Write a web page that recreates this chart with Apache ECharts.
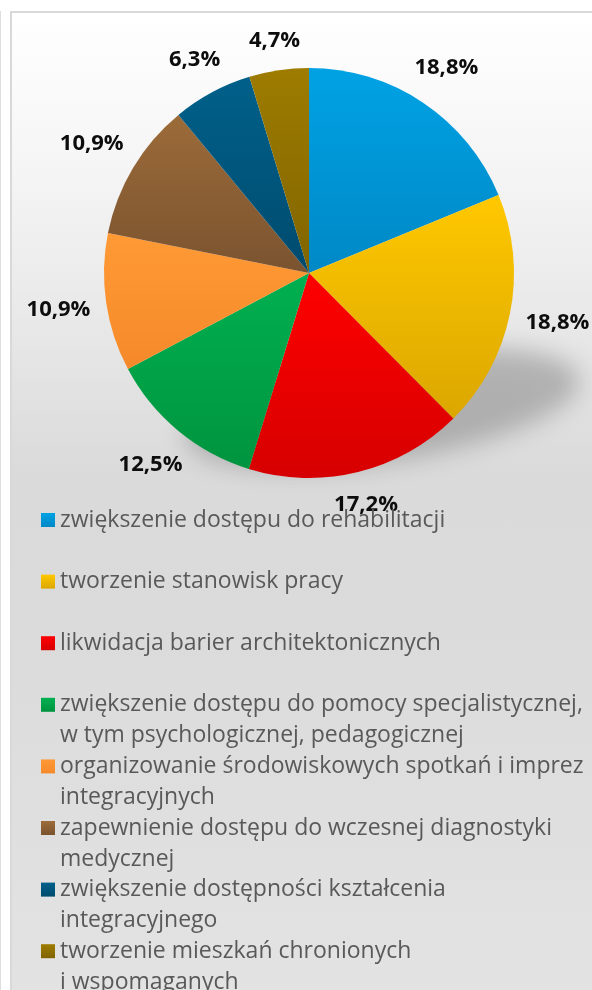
<!DOCTYPE html>
<html>
<head>
<meta charset="utf-8">
<script src="https://cdn.jsdelivr.net/npm/echarts@6/dist/echarts.min.js"></script>
<style>
  html, body { margin: 0; padding: 0; background: #ffffff; }
  #wrap { position: relative; width: 592px; height: 990px; overflow: hidden; background: #ffffff; }
  #edge { position: absolute; left: 0; top: 11px; width: 1px; height: 990px; background: #dedede; }
  #frame {
    position: absolute; left: 10px; top: 11px; width: 640px; height: 1000px;
    border-left: 2px solid #d9d9d9; border-top: 2px solid #d9d9d9;
    background: linear-gradient(to bottom, #ffffff 0px, #f6f6f6 140px, #e9e9e9 300px,
                #dadada 460px, #dbdbdb 620px, #e3e3e3 990px);
  }
  #chart { position: absolute; left: 0; top: 0; width: 592px; height: 990px; }
</style>
</head>
<body>
<div id="wrap"><div id="edge"></div><div id="frame"></div><div id="chart"></div></div>
<script>
// Categories (line breaks where the legend text wraps)
const categories = [
  'zwiększenie dostępu do rehabilitacji',
  'tworzenie stanowisk pracy',
  'likwidacja barier architektonicznych',
  'zwiększenie dostępu do pomocy specjalistycznej,\nw tym psychologicznej, pedagogicznej',
  'organizowanie środowiskowych spotkań i imprez\nintegracyjnych',
  'zapewnienie dostępu do wczesnej diagnostyki\nmedycznej',
  'zwiększenie dostępności kształcenia\nintegracyjnego',
  'tworzenie mieszkań chronionych\ni wspomaganych'
];

// Share of answers, percent
const values = [18.8, 18.8, 17.2, 12.5, 10.9, 10.9, 6.3, 4.7];

// Slice colours: top and bottom of each vertical gradient
const colorsTop    = ['#00a2e4', '#ffc800', '#ff0000', '#00b050', '#ff9a35', '#9c6b39', '#00608a', '#9e7c00'];
const colorsBottom = ['#0088c6', '#dba700', '#d60000', '#00943f', '#f5892a', '#7a532f', '#004b6e', '#806400'];

// Pie geometry (pixels)
const CX = 309, CY = 273, R = 205;
const LABEL_GAP = 15;

const total = values.reduce((a, b) => a + b, 0);
function midAngle(i) {
  let s = 0;
  for (let j = 0; j < i; j++) s += values[j];
  return (s + values[i] / 2) / total * Math.PI * 2; // clockwise from 12 o'clock
}
function fmt(v) { return v.toFixed(1).replace('.', ',') + '%'; }

const chart = echarts.init(document.getElementById('chart'), null, { renderer: 'canvas' });

const data = categories.map((name, i) => ({
  name: name,
  value: values[i],
  itemStyle: {
    color: new echarts.graphic.LinearGradient(0, 0, 0, 1, [
      { offset: 0, color: colorsTop[i] },
      { offset: 1, color: colorsBottom[i] }
    ])
  }
}));

// Soft perspective shadow cast by the pie towards the lower right.
// The ellipse itself sits off-canvas; only its blurred shadow is visible.
const OFF = 3000;
const shadow = {
  type: 'ellipse',
  x: CX + 0.36 * R - OFF,
  y: CY + 0.66 * R,
  rotation: 0.15,
  shape: { cx: 0, cy: 0, rx: 0.97 * R, ry: 0.26 * R },
  style: {
    fill: '#000',
    shadowBlur: 24,
    shadowOffsetX: OFF,
    shadowOffsetY: 0,
    shadowColor: 'rgba(0,0,0,0.22)'
  },
  silent: true,
  z: 0
};

chart.setOption({
  backgroundColor: 'transparent',
  animation: false,
  graphic: [shadow],
  legend: {
    orient: 'vertical',
    left: 41,
    top: 473.5,
    height: 600,
    padding: 0,
    itemGap: -31.4,
    itemWidth: 14,
    itemHeight: 14,
    itemStyle: { borderWidth: 0 },
    icon: 'rect',
    selectedMode: false,
    data: categories,
    formatter: function (name) {
      // blank first line keeps the marker level with the first text line
      return ' \n' + name + (name.indexOf('\n') >= 0 ? '' : '\n ');
    },
    textStyle: {
      fontFamily: 'Open Sans',
      fontSize: 23,
      color: '#595959',
      lineHeight: 31
    }
  },
  series: [{
    type: 'pie',
    z: 2,
    center: [CX, CY],
    radius: [0, R],
    startAngle: 90,
    clockwise: true,
    avoidLabelOverlap: false,
    emphasis: { disabled: true },
    data: data,
    label: {
      show: true,
      position: 'outside',
      formatter: p => fmt(p.value),
      fontFamily: 'Open Sans',
      fontWeight: 'bold',
      fontSize: 22,
      color: '#0d0d0d'
    },
    labelLine: { show: false },
    labelLayout: function (p) {
      const a = midAngle(p.dataIndex);
      const dx = Math.sin(a), dy = -Math.cos(a);
      const w = p.labelRect.width, h = p.labelRect.height;
      const ext = Math.abs(dx) * w / 2 + Math.abs(dy) * h / 2;
      const d = R + LABEL_GAP + ext;
      return { x: CX + dx * d, y: CY + dy * d, align: 'center', verticalAlign: 'middle' };
    }
  }]
});
</script>
</body>
</html>
